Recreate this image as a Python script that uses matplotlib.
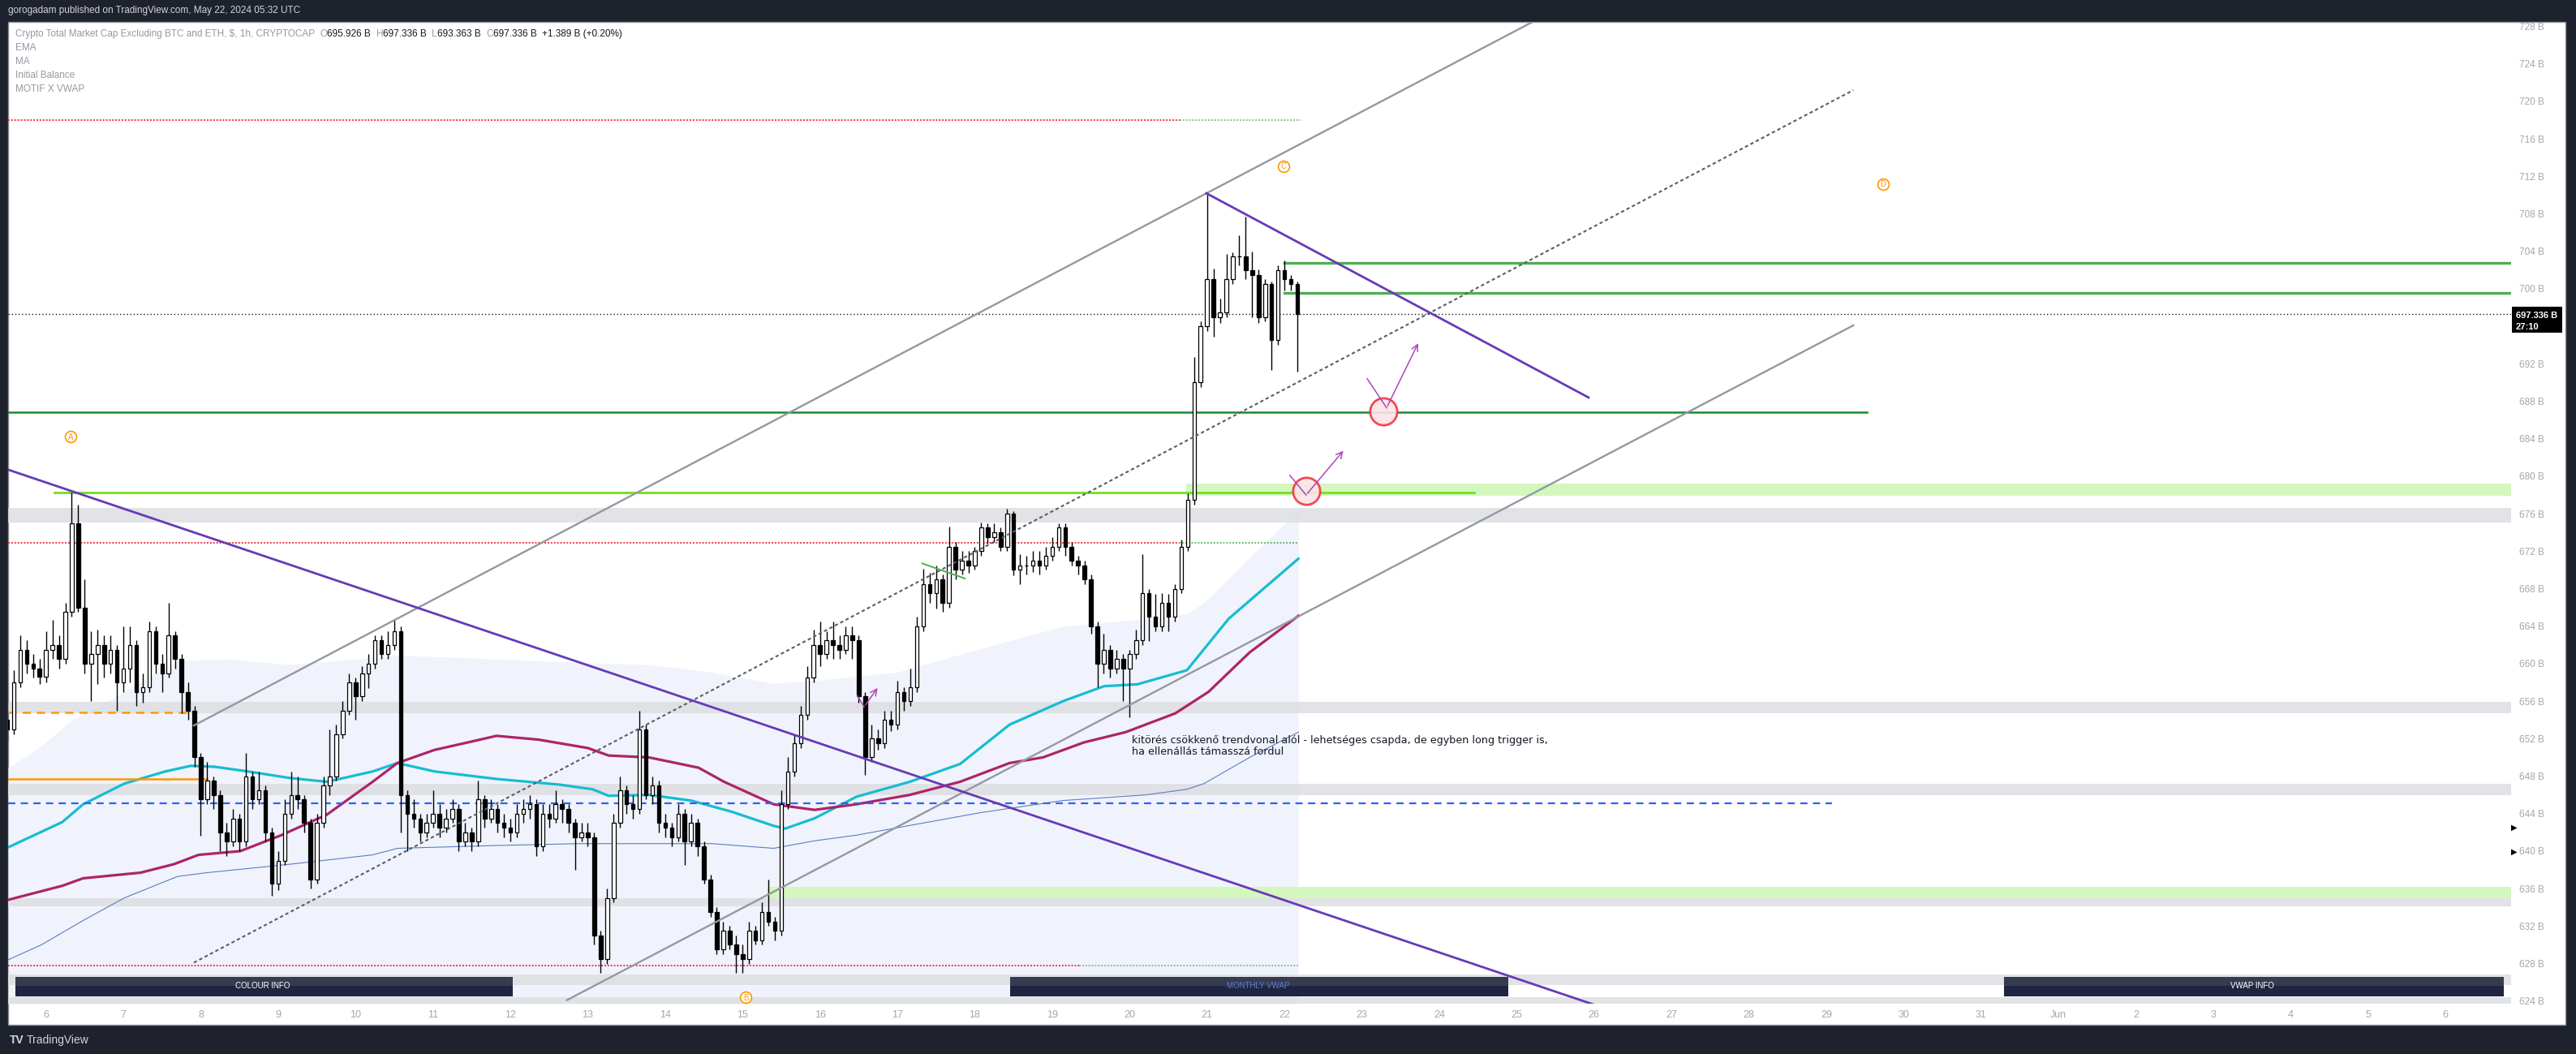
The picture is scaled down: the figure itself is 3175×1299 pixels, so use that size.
import numpy as np
import matplotlib
matplotlib.use("Agg")
import matplotlib.pyplot as plt
from matplotlib.patches import Rectangle

plt.rcParams['font.family'] = ['Liberation Sans', 'DejaVu Sans']

W, H = 3175, 1299

# ---- 2h candles, x in "day of May" (May 5 12:00 onwards) ----
open0 = 654.0
closes = [653, 658, 661.5, 660, 659.5, 658.6,
          661.5, 662, 660.5, 665.5, 675, 666, 660, 661, 662, 660, 661.5, 658,
          659.5, 662, 657, 657.5, 663.5, 660, 659, 663, 660.5, 657, 655, 650,
          645.5, 647.5, 646, 642, 641, 643.5, 641, 648, 645.5, 646.5, 642, 636.5,
          639, 644, 646, 645.5, 643, 637, 643, 647, 648, 652.5, 655, 658,
          656.5, 659, 660, 662.5, 661, 662, 663.5, 646, 644, 643.5, 642, 643,
          644, 642.5, 643.5, 644.5, 641, 642, 641, 645.5, 643.5, 644.5, 643, 642.5,
          642, 644, 644.5, 645, 640.5, 644, 643.5, 645, 644.5, 643, 641.5, 642,
          641.5, 631, 628.5, 635, 643, 646.5, 645, 644.5, 653, 646,
          647, 643, 642.5, 641.5, 644, 641, 643, 640.5, 637, 633.5,
          629.5, 631.5, 630, 629, 628.5, 631.5, 630.5, 633.5, 632.5, 631.5,
          645, 648.5, 651.5, 654.5, 658.5, 662, 661, 662.5, 662, 661.5, 663, 662.5,
          656.5, 650, 652, 651.5, 654, 653.5, 657, 656, 657.5, 664, 668.5, 667.5,
          669, 666.5, 672.5, 670, 671, 670.5, 672, 674.5, 673.5, 674, 672.5, 676,
          670, 670.5, 670.5, 671, 670.5, 671.5, 672.5, 674.5, 672.5, 671, 670.5, 669,
          664, 660, 661.5, 659.5, 660.5, 659.5, 661, 662.5, 667.5, 665, 664, 666.5,
          665, 668, 672.5, 677.5, 690, 696, 701, 697, 697.5, 701, 703.5, 703.5,
          702, 701.5, 697, 700.5, 694.5, 702, 701, 700.5, 697.336]
highs = [656, 659.3, 663, 662.5, 661, 660.5,
         663.5, 664.7, 663, 666.5, 678.3, 677, 669, 663.5, 663.6, 663, 663, 662,
         664, 664, 662.5, 659, 664.5, 664, 661, 666.5, 663.5, 661, 658, 655.5,
         650.5, 649.5, 648, 646.5, 643, 644.5, 644, 650.5, 648.5, 648.5, 647, 642.5,
         640, 645.5, 648.5, 648, 646, 643.5, 644, 648, 653, 653.5, 656, 659,
         658.5, 659.7, 661, 663, 663, 663.5, 664.7, 664, 646.5, 645.5, 644, 644,
         646.5, 645, 644.5, 645.5, 645, 643, 642.5, 647.5, 646, 645.5, 645, 644,
         643.5, 645, 645.5, 646, 645.5, 645, 645, 646.5, 645.5, 645, 643.5, 643,
         643, 642, 631.5, 636, 644, 648, 647, 646, 655, 653.5,
         648, 647.5, 644, 643, 645, 644.5, 644, 643.5, 641, 637.5,
         634, 632.5, 632, 631, 630, 632.5, 632, 634.5, 637, 633,
         646.5, 650, 652.5, 655.5, 659.7, 663.6, 664.5, 663.5, 664.5, 663, 664, 664,
         663, 657, 653.5, 653, 655, 655, 658.2, 657.5, 659.5, 665, 670.1, 669.7,
         670.5, 669.5, 674.6, 673, 672, 672, 672.5, 675.1, 675, 675, 674.5, 676.5,
         676.3, 671.7, 671.5, 672, 672, 672.5, 673.5, 675, 675, 673, 671.5, 671,
         669.5, 664.5, 663.2, 662, 661.5, 661, 661.5, 663.6, 671.7, 668, 667.4, 667.5,
         667.4, 668.5, 673.2, 678.2, 692.7, 696.5, 710.2, 702.2, 699, 703.7, 703.9, 705.7,
         707.7, 704, 702.1, 701, 700.8, 702.5, 703, 701.5, 700.8]
lows = [651.8, 652.5, 657.5, 659, 658.5, 657.8,
        658, 660.5, 659.5, 660, 665, 665.5, 659, 656, 657.8, 658.5, 659, 655,
        657, 658, 655.5, 655.8, 657, 659, 657, 658.5, 659.5, 654.7, 654, 649,
        641.6, 645, 644.5, 640, 639.5, 640.5, 640, 640.5, 644.5, 645, 641, 635.2,
        635.8, 638.5, 643.5, 644.5, 642, 636, 636.5, 642.5, 646, 647.5, 652, 654.5,
        654, 656, 657.4, 659.5, 660.5, 660.5, 661.5, 642, 640, 642.5, 641, 641.5,
        642.5, 641.5, 642, 643, 640, 640.5, 640, 640.5, 642.5, 643, 642, 641.5,
        641, 641.5, 643, 643.5, 639.5, 640, 642.5, 643, 643, 642, 638, 641,
        640.5, 630, 627, 628, 634.5, 642.5, 644, 643.5, 644, 645.5,
        645, 642, 641.5, 640.5, 641, 638.5, 640.5, 639.5, 636.5, 633,
        629, 629, 629.5, 627, 627, 628, 630, 630, 632, 630.5,
        631, 644.5, 648, 651, 654, 658, 659.7, 660.5, 660.5, 660.5, 661, 660.5,
        655.8, 648.1, 649.5, 650.8, 651, 652.8, 653, 655, 655.5, 657, 663.5, 666.5,
        665.9, 665.5, 666, 669, 669.5, 669.7, 670, 671.5, 672.8, 673, 672, 672,
        669.4, 668.5, 669.5, 669.8, 669.5, 670, 671, 672, 671.5, 670.5, 669.5, 668.5,
        663.2, 657.5, 659, 658.5, 659, 656, 654.3, 660.5, 662, 662.4, 663.5, 663.5,
        663.5, 664.5, 667.5, 672, 677, 689.5, 695.5, 694.9, 696.4, 697, 700.5, 702.5,
        701, 697, 696.4, 696.5, 691.3, 694, 699.8, 699.8, 691.2]

# ---- indicator lines (day, price) ----
ema_x = [5.51, 6.21, 6.48, 7.01, 7.54, 7.87, 8.18, 8.61, 9.15, 9.63, 10.22, 10.54, 11.02, 11.82,
         12.63, 13.06, 13.27, 13.79, 14.33, 14.86, 15.40, 15.55, 15.93, 16.47, 17.16, 17.81,
         18.45, 19.14, 19.67, 20.10, 20.74, 21.28, 22.18]
ema_y = [640.4, 643.1, 645.0, 647.2, 648.5, 649.1, 649.0, 648.5, 647.8, 647.4, 648.5, 649.4, 648.5, 647.7,
         647.1, 646.6, 645.9, 646.0, 645.4, 644.2, 642.7, 642.4, 643.5, 645.8, 647.4, 649.3,
         653.5, 656.0, 657.6, 657.8, 659.3, 664.8, 671.2]
ma_x = [5.51, 6.21, 6.48, 7.22, 7.65, 7.97, 8.51, 9.04, 9.63, 10.22, 10.54, 11.02, 11.45, 11.82,
        12.36, 13.0, 13.27, 13.79, 14.43, 14.76, 15.40, 15.93, 16.47, 17.16, 17.81, 18.45,
        18.88, 19.41, 19.95, 20.59, 21.02, 21.55, 22.18]
ma_y = [634.8, 636.3, 637.1, 637.7, 638.6, 639.6, 640.0, 641.7, 643.9, 647.4, 649.4, 650.8, 651.6, 652.3,
        651.9, 651.0, 650.2, 650.0, 648.9, 647.4, 645.0, 644.4, 645.0, 646.0, 647.4, 649.4,
        650.0, 651.6, 652.7, 654.7, 657.0, 661.2, 665.1]
vwap_x = [5.51, 5.94, 6.48, 7.01, 7.70, 8.08, 9.15, 10.22, 10.54, 11.82, 12.89, 14.60, 15.40,
          15.93, 16.47, 17.0, 18.07, 19.14, 20.21, 20.74, 20.96, 21.55, 22.18]
vwap_y = [628.4, 630.0, 632.6, 635.0, 637.3, 637.7, 638.6, 639.6, 640.3, 640.6, 640.8, 640.8, 640.3,
          641.1, 641.7, 642.5, 644.1, 645.4, 646.0, 646.6, 647.2, 650.0, 652.7]
band_x = [5.51, 5.94, 6.32, 6.75, 7.01, 7.44, 7.70, 8.35, 9.15, 10.56, 11.82, 12.89, 13.79, 14.60,
          15.40, 15.93, 17.0, 18.07, 19.14, 20.21, 20.74, 20.96, 21.55, 22.18]
band_y = [648.9, 651.2, 653.9, 655.8, 657.0, 659.1, 660.3, 660.5, 659.9, 660.9, 660.5, 660.1, 659.9, 659.1,
          657.9, 658.2, 659.1, 661.6, 664.0, 664.8, 665.3, 666.5, 671.3, 676.4]

# zones (price bottom, price top)
grey_zones = [(675.1, 676.6), (654.7, 655.9), (646.0, 647.2), (634.1, 635.0), (625.7, 626.8), (623.7, 624.4)]
green_zones = [(20.73, 677.9, 679.2), (15.31, 635.0, 636.2)]

XL, XR = 5.5105, 37.848
YB, YT = 623.72, 728.48

fig = plt.figure(figsize=(W / 100, H / 100), dpi=100, facecolor='#1e222d')


def fx(x):
    return x / W


def fy(y):
    return 1 - y / H


# white chart panel
fig.add_artist(Rectangle((fx(10), fy(1263)), fx(3152), 1236 / H, transform=fig.transFigure,
                         facecolor='white', edgecolor='#8d9099', lw=1, zorder=0))

ax = fig.add_axes([fx(10), fy(1237), fx(3085), 1210 / H])
ax.set_facecolor('none')
ax.set_xlim(XL, XR)
ax.set_ylim(YB, YT)
for s in ax.spines.values():
    s.set_visible(False)

# background volume-profile style fill
ax.fill_between(band_x, YB, band_y, color='#f0f3fb', lw=0, zorder=0)

for lo, hi in grey_zones:
    ax.axhspan(lo, hi, color='#dcdee2', alpha=0.85, lw=0, zorder=1)
for x0, lo, hi in green_zones:
    ax.fill_between([x0, XR], lo, hi, color='#d3f7bd', lw=0, zorder=1.5)

# moving averages
ax.plot(vwap_x, vwap_y, color='#5b7cc2', lw=0.8, zorder=2)
ax.plot(ema_x, ema_y, color='#17bcd2', lw=2.3, zorder=2.2)
ax.plot(ma_x, ma_y, color='#ad2469', lw=2.3, zorder=2.2)

# horizontal levels
ax.plot([XL, 29.52], [686.8, 686.8], color='#1b8a2c', lw=1.8, zorder=3)
ax.plot([6.11, 24.45], [678.3, 678.3], color='#72e01c', lw=2.0, zorder=3)
ax.plot([22.0, XR], [702.8, 702.8], color='#4caf50', lw=2.4, zorder=3)
ax.plot([22.0, XR], [699.6, 699.6], color='#4caf50', lw=2.4, zorder=3)
ax.plot([XL, 20.65], [718.0, 718.0], color='#f23645', lw=1.4, ls=(0, (1, 1)), zorder=3)
ax.plot([20.65, 22.21], [718.0, 718.0], color='#81c784', lw=1.4, ls=(0, (1, 1)), zorder=3)
ax.plot([XL, 20.64], [672.9, 672.9], color='#f23645', lw=1.4, ls=(0, (1, 1)), zorder=3)
ax.plot([20.64, 22.18], [672.9, 672.9], color='#66bb6a', lw=1.4, ls=(0, (1, 1)), zorder=3)
ax.plot([XL, 19.35], [627.8, 627.8], color='#f23645', lw=1.4, ls=(0, (1, 1)), zorder=3)
ax.plot([19.35, 22.18], [627.8, 627.8], color='#81c784', lw=1.4, ls=(0, (1, 1)), zorder=3)
ax.plot([XL, 29.07], [645.1, 645.1], color='#2962ff', lw=1.6, ls=(0, (4, 3)), zorder=3)
ax.plot([XL, 7.89], [654.8, 654.8], color='#ff9800', lw=1.8, ls=(0, (4, 3)), zorder=3)
ax.plot([XL, 8.08], [647.7, 647.7], color='#ff9800', lw=1.8, zorder=3)
ax.plot([XL, XR], [697.336, 697.336], color='#131722', lw=1.0, ls=(0, (1, 2)), zorder=3)

# candles
c = np.array(closes)
o = np.array([open0] + closes[:-1])
t = 5.5 + np.arange(len(c)) / 12
up = c >= o
ax.vlines(t, lows, highs, color='black', lw=1.0, zorder=4)
ax.bar(t[up], (c - o)[up], bottom=o[up], width=1 / 21, color='white', edgecolor='black', lw=0.9, zorder=5)
ax.bar(t[~up], (o - c)[~up], bottom=c[~up], width=1 / 21, color='black', edgecolor='black', lw=0.9, zorder=5)

# channel + trendlines
ax.plot([7.91, 25.4], [653.4, 653.4 + 4.341 * (25.4 - 7.91)], color='#9598a1', lw=1.7, zorder=6)
ax.plot([12.73, 29.35], [624.1, 696.1], color='#9598a1', lw=1.7, zorder=6)
ax.plot([7.91, 29.35], [628.1, 721.2], color='#5a5d66', lw=1.5, ls=(0, (2, 1.6)), zorder=6)
ax.plot([XL, 26.3], [680.7, 680.7 - 2.786 * (26.3 - XL)], color='#673ab7', lw=2.0, zorder=6)
ax.plot([20.99, 25.93], [710.2, 688.4], color='#673ab7', lw=2.0, zorder=6)
ax.plot([17.32, 17.87], [670.7, 669.1], color='#4caf50', lw=1.4, zorder=6)

# red circles and purple arrows
ax.plot([23.28, 22.28], [686.9, 678.4], ls='none', marker='o', ms=24, mfc='#fce4e7', mec='#f23645',
        mew=2, alpha=0.9, zorder=7)
for (x0, y0), (x1, y1), (x2, y2) in [((23.07, 690.4), (23.32, 687.3), (23.74, 694.4)),
                                     ((22.07, 680.1), (22.28, 678.0), (22.78, 682.9)),
                                     ((16.48, 656.6), (16.57, 655.4), (16.76, 657.6))]:
    ax.plot([x0, x1], [y0, y1], color='#ab47bc', lw=1.1, zorder=8)
    ax.annotate('', xy=(x2, y2), xytext=(x1, y1),
                arrowprops=dict(arrowstyle='->', color='#ab47bc', lw=1.1, mutation_scale=14), zorder=8)

# wave labels
for lab, x, y in [('A', 6.32, 684.2), ('B', 15.04, 624.4), ('C', 21.99, 713.1), ('D', 29.73, 711.2)]:
    ax.plot(x, y, marker='o', ms=10, mfc='white', mec='#ff9800', mew=1.2, zorder=8, clip_on=False)
    ax.text(x, y - 0.05, lab, color='#ff9800', fontsize=7, ha='center', va='center', zorder=9)

ax.text(20.03, 651.2, 'kitörés csökkenő trendvonal alól - lehetséges csapda, de egyben long trigger is,\n'
        'ha ellenállás támasszá fordul', fontsize=9.2, family='DejaVu Sans', color='#131722',
        va='center', ha='left', linespacing=1.15, zorder=9)

# info tables
for x0, x1, label, col, tx in [(5.6, 12.03, 'COLOUR INFO', 'white', 8.8),
                               (18.46, 24.89, 'MONTHLY VWAP', '#5d7fd0', 21.66),
                               (31.3, 37.75, 'VWAP INFO', 'white', 34.5)]:
    ax.add_patch(Rectangle((x0, 625.6), x1 - x0, 1.0, facecolor='#363c50', lw=0, zorder=9))
    ax.add_patch(Rectangle((x0, 624.5), x1 - x0, 1.1, facecolor='#1f2440', lw=0, zorder=9))
    ax.text(tx, 625.6, label, color=col, fontsize=7, ha='center', va='center', zorder=10)

# axes ticks
yt = np.arange(624, 729, 4)
ax.yaxis.tick_right()
ax.set_yticks(yt)
ax.set_yticklabels([f'{v} B' for v in yt])
xt = list(range(6, 38))
ax.set_xticks(xt)
ax.set_xticklabels([('Jun' if d == 32 else str(d - 31)) if d > 31 else str(d) for d in xt])
ax.tick_params(axis='y', length=0, pad=7, labelsize=8.5, labelcolor='#a3a6af')
ax.tick_params(axis='x', length=0, pad=6, labelsize=9, labelcolor='#a3a6af')

# last price tag
fig.add_artist(Rectangle((fx(3096), fy(410)), fx(62), 32 / H, transform=fig.transFigure,
                         facecolor='black', lw=0))
fig.text(fx(3101), fy(389), '697.336 B', color='white', fontsize=8, fontweight='bold', va='center')
fig.text(fx(3101), fy(403), '27:10', color='white', fontsize=8, fontweight='bold', va='center')
for yy in (1020, 1050):
    fig.text(fx(3095), fy(yy), '\u25B6', color='black', fontsize=7, va='center', ha='left',
             family='DejaVu Sans')

# header, legend, footer
fig.text(fx(10), fy(13), 'gorogadam published on TradingView.com, May 22, 2024 05:32 UTC',
         color='#d1d4dc', fontsize=8.5, va='center')
grey, dark = '#9598a1', '#131722'
parts = [('Crypto Total Market Cap Excluding BTC and ETH, $, 1h, CRYPTOCAP  ', grey), ('O', grey),
         ('695.926 B  ', dark), ('H', grey), ('697.336 B  ', dark), ('L', grey), ('693.363 B  ', dark),
         ('C', grey), ('697.336 B  ', dark), ('+1.389 B (+0.20%)', dark)]
renderer = fig.canvas.get_renderer()
x_cur = 19
for s, col in parts:
    tt = fig.text(x_cur / W, fy(42), s, color=col, fontsize=8.5, va='center')
    x_cur = tt.get_window_extent(renderer).x1
for i, s in enumerate(['EMA', 'MA', 'Initial Balance', 'MOTIF X VWAP']):
    fig.text(fx(19), fy(59 + 17 * i), s, color=grey, fontsize=8.5, va='center')

fig.text(fx(12), fy(1282), 'TV', color='#d1d4dc', fontsize=10, fontweight='bold', va='center')
fig.text(fx(33), fy(1282), 'TradingView', color='#d1d4dc', fontsize=10, va='center')

fig.savefig('out.png', dpi=100, facecolor=fig.get_facecolor())
